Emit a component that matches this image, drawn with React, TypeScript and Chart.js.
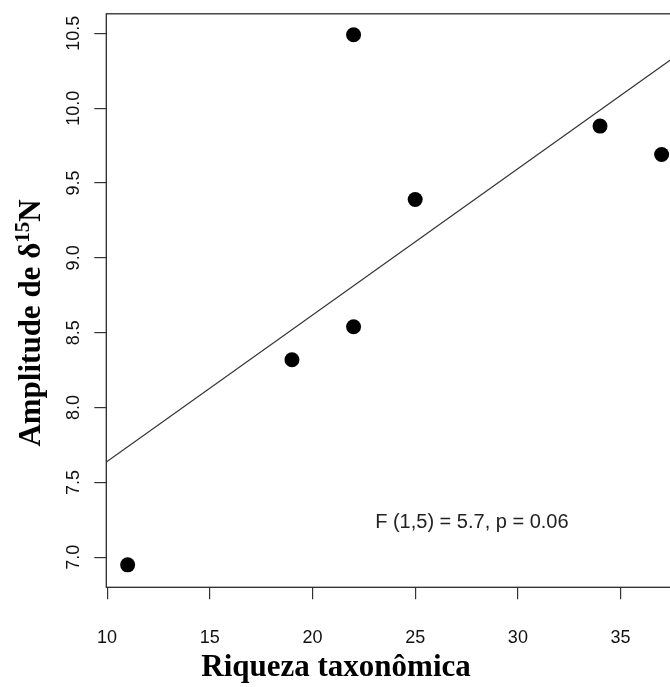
import { useEffect, useRef } from "react";
import { Chart, registerables } from "chart.js";

Chart.register(...registerables);

// Observed data: taxonomic richness vs. δ15N amplitude
const richness = [11, 19, 22, 22, 25, 34, 37];
const amplitude = [6.95, 8.32, 8.54, 10.49, 9.39, 9.88, 9.69];

// Axis ranges and tick spacing
const xRange = [9.96, 38.04];
const yRange = [6.8, 10.63];
const xStep = 5;
const yStep = 0.5;

// Text
const xTitle = "Riqueza taxonômica";
const yTitleMain = "Amplitude de δ";
const yTitleSup = "15";
const yTitleEnd = "N";
const statsLabel = "F (1,5) = 5.7, p = 0.06";
const statsAt = [27.76, 7.23];

const SANS = '"Liberation Sans", Arial, sans-serif';
const SERIF = '"Liberation Serif", "Times New Roman", serif';

function leastSquares(xs: number[], ys: number[]) {
  const n = xs.length;
  const mx = xs.reduce((a, b) => a + b, 0) / n;
  const my = ys.reduce((a, b) => a + b, 0) / n;
  let sxy = 0;
  let sxx = 0;
  for (let i = 0; i < n; i++) {
    sxy += (xs[i] - mx) * (ys[i] - my);
    sxx += (xs[i] - mx) * (xs[i] - mx);
  }
  const slope = sxy / sxx;
  return { slope, intercept: my - slope * mx };
}

const decorations = {
  id: "decorations",
  afterDraw(chart: any) {
    const { ctx, chartArea, scales } = chart;
    const xs = scales.x;
    const ys = scales.y;
    ctx.save();

    // plot frame
    ctx.strokeStyle = "#2a2a2a";
    ctx.lineWidth = 1.3;
    ctx.strokeRect(
      chartArea.left,
      chartArea.top,
      chartArea.right - chartArea.left,
      chartArea.bottom - chartArea.top
    );

    // y tick labels, parallel to the axis
    ctx.fillStyle = "#111";
    ctx.font = `18px ${SANS}`;
    ctx.textAlign = "center";
    ctx.textBaseline = "middle";
    ys.ticks.forEach((t: any) => {
      const py = ys.getPixelForValue(t.value);
      ctx.save();
      ctx.translate(73.5, py);
      ctx.rotate(-Math.PI / 2);
      ctx.fillText(Number(t.value).toFixed(1), 0, 1);
      ctx.restore();
    });

    // statistics note
    ctx.font = `20px ${SANS}`;
    ctx.fillStyle = "#222";
    ctx.fillText(
      statsLabel,
      xs.getPixelForValue(statsAt[0]),
      ys.getPixelForValue(statsAt[1])
    );

    // x title
    ctx.fillStyle = "#000";
    ctx.font = `bold 31px ${SERIF}`;
    ctx.textAlign = "center";
    ctx.textBaseline = "alphabetic";
    ctx.fillText(xTitle, 336, 676);

    // y title with superscript
    const mainFont = `bold 31px ${SERIF}`;
    const supFont = `bold 21px ${SERIF}`;
    ctx.font = mainFont;
    const w1 = ctx.measureText(yTitleMain).width;
    const w3 = ctx.measureText(yTitleEnd).width;
    ctx.font = supFont;
    const w2 = ctx.measureText(yTitleSup).width;
    const total = w1 + w2 + w3;
    ctx.save();
    ctx.translate(40, 323);
    ctx.rotate(-Math.PI / 2);
    ctx.textAlign = "left";
    let px = -total / 2;
    ctx.font = mainFont;
    ctx.fillText(yTitleMain, px, 0);
    px += w1;
    ctx.font = supFont;
    ctx.fillText(yTitleSup, px, -11);
    px += w2;
    ctx.font = mainFont;
    ctx.fillText(yTitleEnd, px, 0);
    ctx.restore();

    ctx.restore();
  },
};

export default function App() {
  const ref = useRef<HTMLCanvasElement | null>(null);

  useEffect(() => {
    const canvas = ref.current;
    if (!canvas) return;
    const fit = leastSquares(richness, amplitude);
    const fitLine = xRange.map((x) => ({ x, y: fit.intercept + fit.slope * x }));
    const points = richness.map((x, i) => ({ x, y: amplitude[i] }));

    const chart = new Chart(canvas, {
      type: "scatter",
      data: {
        datasets: [
          {
            type: "line",
            data: fitLine,
            borderColor: "#333",
            borderWidth: 1.2,
            pointRadius: 0,
            fill: false,
            order: 2,
          } as any,
          {
            type: "scatter",
            data: points,
            backgroundColor: "#000",
            borderWidth: 0,
            pointRadius: 7.5,
            pointHoverRadius: 7.5,
            order: 1,
          },
        ],
      },
      options: {
        responsive: false,
        animation: false,
        events: [],
        layout: { padding: { top: 12.7, right: 17, bottom: 0, left: 0 } },
        plugins: {
          legend: { display: false },
          tooltip: { enabled: false },
        },
        scales: {
          x: {
            type: "linear",
            min: xRange[0],
            max: xRange[1],
            afterFit: (s: any) => {
              s.height = 99.7;
            },
            border: { display: false },
            grid: {
              drawOnChartArea: false,
              drawTicks: true,
              tickLength: 12,
              color: "#333",
              lineWidth: 1.2,
            },
            ticks: {
              stepSize: xStep,
              includeBounds: false,
              autoSkip: false,
              maxRotation: 0,
              padding: 28,
              color: "#111",
              font: { family: SANS, size: 18 },
              callback: (v: any) => String(v),
            },
          },
          y: {
            type: "linear",
            min: yRange[0],
            max: yRange[1],
            afterFit: (s: any) => {
              s.width = 106.3;
            },
            border: { display: false },
            grid: {
              drawOnChartArea: false,
              drawTicks: true,
              tickLength: 12,
              color: "#333",
              lineWidth: 1.2,
            },
            ticks: {
              stepSize: yStep,
              includeBounds: false,
              autoSkip: false,
              color: "rgba(0,0,0,0)",
              font: { family: SANS, size: 18 },
            },
          },
        },
      },
      plugins: [decorations],
    });
    return () => chart.destroy();
  }, []);

  return (
    <div
      style={{
        position: "absolute",
        left: 0,
        top: 0,
        width: 670,
        height: 687,
        overflow: "hidden",
        background: "#fff",
      }}
    >
      <canvas ref={ref} width={700} height={687} style={{ display: "block" }} />
    </div>
  );
}
